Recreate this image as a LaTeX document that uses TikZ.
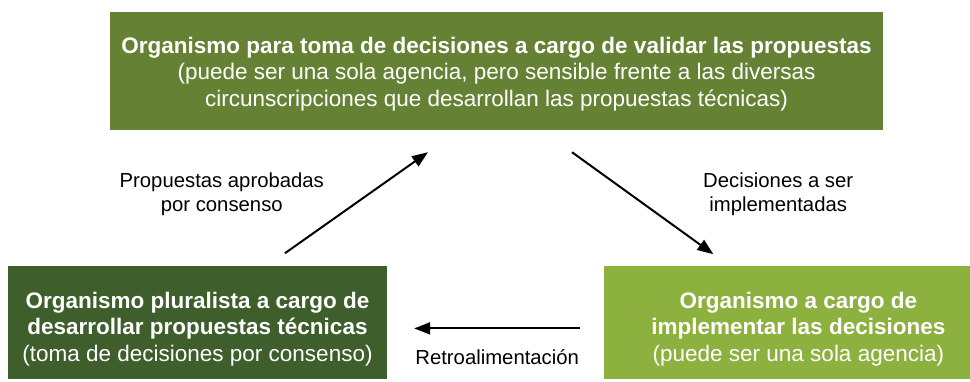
\documentclass[tikz,border=0pt]{standalone}
\usepackage{fontspec}
\setmainfont{Liberation Sans}
\usetikzlibrary{positioning,arrows.meta}

\definecolor{valgreen}{RGB}{101,130,52}
\definecolor{plugreen}{RGB}{62,95,44}
\definecolor{impgreen}{RGB}{141,177,63}

\begin{document}
\begin{tikzpicture}[
  node distance=1cm and 1cm,
  box/.style={fill=#1,text=white,align=center,inner sep=0pt,minimum height=113pt,
    font=\fontsize{22.5}{26.5}\selectfont},
  lbl/.style={align=center,font=\fontsize{20.3}{23.5}\selectfont},
  flow/.style={line width=2pt,-{Triangle[length=16pt,width=12pt]}}
]
\useasboundingbox (-496.5pt,71pt) rectangle (473.5pt,-310pt);

\node[box=valgreen,minimum width=773pt,minimum height=118pt] (valid) at (0,0)
  {\rule{0pt}{22pt}\textbf{Organismo para toma de decisiones a cargo de validar las propuestas}\\
   (puede ser una sola agencia, pero sensible frente a las diversas\\
   circunscripciones que desarrollan las propuestas técnicas)};
\node[box=plugreen,minimum width=379pt,below=136pt of valid.south west,anchor=north west,xshift=-102pt] (plural)
  {\rule{0pt}{28pt}\textbf{Organismo pluralista a cargo de}\\
   \textbf{desarrollar propuestas técnicas}\\
   (toma de decisiones por consenso)};
\node[box=impgreen,minimum width=388pt,right=217pt of plural] (impl)
  {\rule{0pt}{28pt}\textbf{Organismo a cargo de}\\
   \textbf{implementar las decisiones}\\
   (puede ser una sola agencia)};

% labels
\node[lbl] (aprob) at ([xshift=112pt,yshift=-64pt]valid.south west) {Propuestas aprobadas\\por consenso};
\node[lbl] (decis) at ([xshift=-105pt,yshift=-64pt]valid.south east) {Decisiones a ser\\implementadas};

\draw[flow] ([xshift=87.5pt,yshift=13pt]plural.north) -- ([xshift=-68.5pt,yshift=-22pt]valid.south);
\draw[flow] ([xshift=75.5pt,yshift=-22pt]valid.south) -- ([xshift=-85pt,yshift=12pt]impl.north);
\draw[flow] ([xshift=-24pt,yshift=-5.5pt]impl.west) -- node[lbl,yshift=-29pt] {Retroalimentación}
  ([xshift=27pt,yshift=-5.5pt]plural.east);

\end{tikzpicture}
\end{document}
